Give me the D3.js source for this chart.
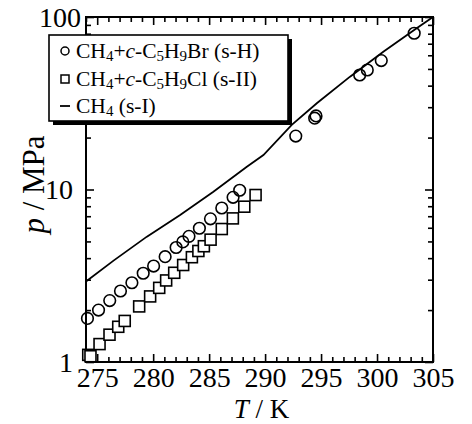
<!DOCTYPE html>
<html>
<head>
<meta charset="utf-8">
<script src="https://cdn.jsdelivr.net/npm/d3@7"></script>
<style>
  body { margin: 0; background: #fff; }
  svg { display: block; font-family: "Liberation Serif", "Times New Roman", serif; }
</style>
</head>
<body>
<svg id="chart" width="472" height="424"></svg>
<script>
// CH4 + c-C5H9Br (s-H)
const sHTemp = [274.13, 275.12, 276.12, 277.08, 278.10, 279.11, 280.04, 281.07, 282.05, 282.65, 283.20,
                284.13, 285.12, 286.13, 287.14, 287.73, 292.74, 294.43, 294.55, 298.45, 299.13, 300.38, 303.32];
const sHPres = [1.79, 2.00, 2.27, 2.58, 2.88, 3.27, 3.60, 4.08, 4.61, 4.97, 5.35,
                5.96, 6.76, 7.81, 9.01, 9.90, 20.4, 25.9, 26.7, 46.1, 49.3, 55.9, 80.5];

// CH4 + c-C5H9Cl (s-II)
const sIITemp = [274.2, 274.4, 275.21, 276.10, 276.88, 277.46, 278.75, 279.73, 280.54, 281.16, 281.88,
                 282.68, 283.46, 284.04, 284.53, 285.13, 286.13, 287.12, 288.14, 289.15];
const sIIPres = [1.10, 1.08, 1.27, 1.44, 1.60, 1.73, 2.10, 2.40, 2.69, 2.97, 3.29,
                 3.65, 4.05, 4.40, 4.69, 5.12, 5.90, 6.80, 7.95, 9.29];

// CH4 (s-I) equilibrium curve
const ch4Temp = [274.0, 276.46, 279.44, 282.41, 285.38, 288.37, 289.85, 292.38, 294.62, 297.59, 300.56, 303.54, 305.0];
const ch4Pres = [2.93, 3.87, 5.33, 7.12, 9.71, 13.56, 15.85, 23.7, 31.6, 45.1, 62.9, 86.0, 100];

const xMajorTicks = [275, 280, 285, 290, 295, 300, 305];
const xMinorTicks = d3.range(274, 306, 1).filter(t => t % 5 !== 0);
const yMajorTicks = [1, 10, 100];
const yMinorTicks = [2, 3, 4, 5, 6, 7, 8, 9, 20, 30, 40, 50, 60, 70, 80, 90];

const svg = d3.select("#chart");
const plotLeft = 86, plotRight = 433, plotTop = 17, plotBottom = 362;

const x = d3.scaleLinear().domain([274, 305]).range([plotLeft, plotRight]);
const y = d3.scaleLog().domain([1, 100]).range([plotBottom, plotTop]);

// axes (ticks pointing inward)
function tickStyle(g) {
    g.select(".domain").remove();
    g.selectAll("line").attr("stroke", "#000").attr("stroke-width", 1.6);
    g.selectAll("text").attr("fill", "#000").style("font-size", "28px")
        .style("font-family", '"Liberation Serif", serif');
}

svg.append("g").attr("transform", `translate(0,${plotBottom})`)
    .call(d3.axisBottom(x).tickValues(xMajorTicks).tickSize(-8).tickFormat(d3.format("d")))
    .call(tickStyle)
    .selectAll("text").attr("y", 5.5);
svg.append("g").attr("transform", `translate(0,${plotBottom})`)
    .call(d3.axisBottom(x).tickValues(xMinorTicks).tickSize(-5).tickFormat(""))
    .call(tickStyle);
svg.append("g").attr("transform", `translate(0,${plotTop})`)
    .call(d3.axisTop(x).tickValues(xMajorTicks).tickSize(-8).tickFormat(""))
    .call(tickStyle);
svg.append("g").attr("transform", `translate(0,${plotTop})`)
    .call(d3.axisTop(x).tickValues(xMinorTicks).tickSize(-5).tickFormat(""))
    .call(tickStyle);

const yAxisG = svg.append("g").attr("transform", `translate(${plotLeft},0)`)
    .call(d3.axisLeft(y).tickValues(yMajorTicks).tickSize(-8).tickFormat(d3.format("d")))
    .call(tickStyle);
yAxisG.selectAll(".tick text").attr("x", d => d === 100 ? -5 : -13).attr("dy", "0.33em");
svg.append("g").attr("transform", `translate(${plotLeft},0)`)
    .call(d3.axisLeft(y).tickValues(yMinorTicks).tickSize(-5).tickFormat(""))
    .call(tickStyle);
svg.append("g").attr("transform", `translate(${plotRight},0)`)
    .call(d3.axisRight(y).tickValues(yMajorTicks).tickSize(-8).tickFormat(""))
    .call(tickStyle);
svg.append("g").attr("transform", `translate(${plotRight},0)`)
    .call(d3.axisRight(y).tickValues(yMinorTicks).tickSize(-5).tickFormat(""))
    .call(tickStyle);

// frame
svg.append("rect")
    .attr("x", plotLeft).attr("y", plotTop)
    .attr("width", plotRight - plotLeft).attr("height", plotBottom - plotTop)
    .attr("fill", "none").attr("stroke", "#000").attr("stroke-width", 2);

// CH4 line
const line = d3.line().x(d => x(d[0])).y(d => y(d[1]));
svg.append("path")
    .datum(ch4Temp.map((t, i) => [t, ch4Pres[i]]))
    .attr("d", line)
    .attr("fill", "none").attr("stroke", "#000").attr("stroke-width", 1.8);

// s-II squares
const sq = 11;
svg.append("g").selectAll("rect")
    .data(sIITemp.map((t, i) => [t, sIIPres[i]]))
    .join("rect")
    .attr("x", d => x(d[0]) - sq / 2).attr("y", d => y(d[1]) - sq / 2)
    .attr("width", sq).attr("height", sq)
    .attr("fill", "#fff").attr("stroke", "#000").attr("stroke-width", 1.6);

// s-H circles
svg.append("g").selectAll("circle")
    .data(sHTemp.map((t, i) => [t, sHPres[i]]))
    .join("circle")
    .attr("cx", d => x(d[0])).attr("cy", d => y(d[1]))
    .attr("r", 5.8)
    .attr("fill", "none").attr("stroke", "#000").attr("stroke-width", 1.6);

// axis titles
const xTitle = svg.append("text")
    .attr("x", (plotLeft + plotRight) / 2 + 2).attr("y", 418)
    .attr("text-anchor", "middle").style("font-size", "27px");
xTitle.append("tspan").style("font-style", "italic").text("T");
xTitle.append("tspan").text(" / K");

const yTitle = svg.append("text")
    .attr("transform", `translate(44,${(plotTop + plotBottom) / 2 - 5}) rotate(-90)`)
    .attr("text-anchor", "middle").style("font-size", "31px");
yTitle.append("tspan").style("font-style", "italic").text("p");
yTitle.append("tspan").text(" / MPa");

// legend
const legend = svg.append("g");
legend.append("rect").attr("x", 53).attr("y", 39).attr("width", 239).attr("height", 86).attr("fill", "#000");
legend.append("rect").attr("x", 49).attr("y", 35).attr("width", 239).attr("height", 86)
    .attr("fill", "#fff").attr("stroke", "#000").attr("stroke-width", 1.6);

const legendRows = [
    [["CH"], ["4", "sub"], ["+"], ["c", "it"], ["-C"], ["5", "sub"], ["H"], ["9", "sub"], ["Br (s-H)"]],
    [["CH"], ["4", "sub"], ["+"], ["c", "it"], ["-C"], ["5", "sub"], ["H"], ["9", "sub"], ["Cl (s-II)"]],
    [["CH"], ["4", "sub"], [" (s-I)"]]
];
const rowBase = [58, 86, 113];

legendRows.forEach((row, i) => {
    const t = legend.append("text").attr("x", 76).attr("y", rowBase[i]).style("font-size", "21.5px");
    let lowered = false;
    row.forEach(seg => {
        const s = t.append("tspan").text(seg[0]);
        if (seg[1] === "sub") {
            s.style("font-size", "15px").attr("dy", lowered ? 0 : 3);
            lowered = true;
        } else {
            if (lowered) s.attr("dy", -3);
            lowered = false;
            if (seg[1] === "it") s.style("font-style", "italic");
        }
    });
});

legend.append("circle").attr("cx", 65).attr("cy", 51).attr("r", 4)
    .attr("fill", "none").attr("stroke", "#000").attr("stroke-width", 1.5);
legend.append("rect").attr("x", 61).attr("y", 75).attr("width", 8).attr("height", 8)
    .attr("fill", "none").attr("stroke", "#000").attr("stroke-width", 1.5);
legend.append("line").attr("x1", 60).attr("x2", 70).attr("y1", 106).attr("y2", 106)
    .attr("stroke", "#000").attr("stroke-width", 1.8);
</script>
</body>
</html>
